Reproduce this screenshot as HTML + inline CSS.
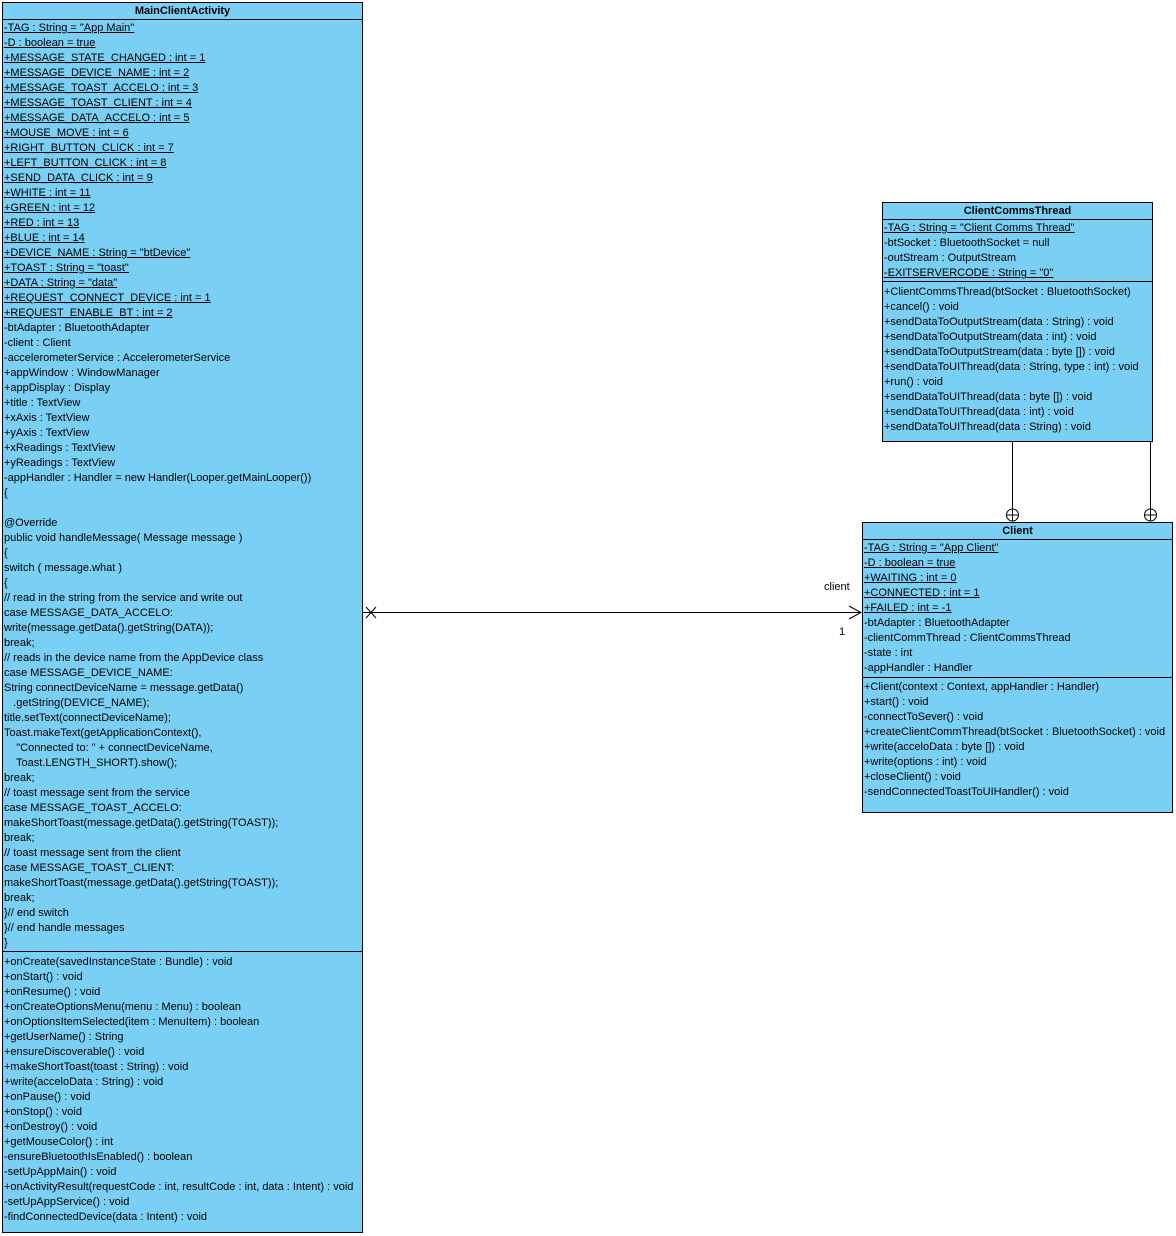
<!DOCTYPE html>
<html><head><meta charset="utf-8"><style>
body{margin:0;width:1176px;height:1236px;background:#fff;position:relative;font-family:"Liberation Sans",Arial,sans-serif;font-size:11px;color:#000;overflow:hidden}
.box{position:absolute;background:#7acff5;border:1px solid #000;box-sizing:border-box}
.hd{position:absolute;left:0;right:0;top:0;height:16px;border-bottom:1px solid #000;text-align:center;font-weight:bold;line-height:16px}
.sec{position:absolute;left:1px;right:0}
.sec div{height:15px;line-height:15px;white-space:pre}
.u{text-decoration:underline}
.dv{position:absolute;left:0;right:0;border-top:1px solid #000}
svg{position:absolute;left:0;top:0}
.lbl{position:absolute;font-size:11px}
</style></head><body>

<div class="box" style="left:2px;top:2px;width:361px;height:1231px">
<div class="hd">MainClientActivity</div>
<div class="sec" style="top:18px">
<div><span class="u">-TAG : String = "App Main"</span></div>
<div><span class="u">-D : boolean = true</span></div>
<div><span class="u">+MESSAGE_STATE_CHANGED : int = 1</span></div>
<div><span class="u">+MESSAGE_DEVICE_NAME : int = 2</span></div>
<div><span class="u">+MESSAGE_TOAST_ACCELO : int = 3</span></div>
<div><span class="u">+MESSAGE_TOAST_CLIENT : int = 4</span></div>
<div><span class="u">+MESSAGE_DATA_ACCELO : int = 5</span></div>
<div><span class="u">+MOUSE_MOVE : int = 6</span></div>
<div><span class="u">+RIGHT_BUTTON_CLICK : int = 7</span></div>
<div><span class="u">+LEFT_BUTTON_CLICK : int = 8</span></div>
<div><span class="u">+SEND_DATA_CLICK : int = 9</span></div>
<div><span class="u">+WHITE : int = 11</span></div>
<div><span class="u">+GREEN : int = 12</span></div>
<div><span class="u">+RED : int = 13</span></div>
<div><span class="u">+BLUE : int = 14</span></div>
<div><span class="u">+DEVICE_NAME : String = "btDevice"</span></div>
<div><span class="u">+TOAST : String = "toast"</span></div>
<div><span class="u">+DATA : String = "data"</span></div>
<div><span class="u">+REQUEST_CONNECT_DEVICE : int = 1</span></div>
<div><span class="u">+REQUEST_ENABLE_BT : int = 2</span></div>
<div>-btAdapter : BluetoothAdapter</div>
<div>-client : Client</div>
<div>-accelerometerService : AccelerometerService</div>
<div>+appWindow : WindowManager</div>
<div>+appDisplay : Display</div>
<div>+title : TextView</div>
<div>+xAxis : TextView</div>
<div>+yAxis : TextView</div>
<div>+xReadings : TextView</div>
<div>+yReadings : TextView</div>
<div>-appHandler : Handler = new Handler(Looper.getMainLooper())</div>
<div>{</div>
<div> </div>
<div>@Override</div>
<div>public void handleMessage( Message message )</div>
<div>{</div>
<div>switch ( message.what )</div>
<div>{</div>
<div>// read in the string from the service and write out</div>
<div>case MESSAGE_DATA_ACCELO:</div>
<div>write(message.getData().getString(DATA));</div>
<div>break;</div>
<div>// reads in the device name from the AppDevice class</div>
<div>case MESSAGE_DEVICE_NAME:</div>
<div>String connectDeviceName = message.getData()</div>
<div>   .getString(DEVICE_NAME);</div>
<div>title.setText(connectDeviceName);</div>
<div>Toast.makeText(getApplicationContext(),</div>
<div>    "Connected to: " + connectDeviceName,</div>
<div>    Toast.LENGTH_SHORT).show();</div>
<div>break;</div>
<div>// toast message sent from the service</div>
<div>case MESSAGE_TOAST_ACCELO:</div>
<div>makeShortToast(message.getData().getString(TOAST));</div>
<div>break;</div>
<div>// toast message sent from the client</div>
<div>case MESSAGE_TOAST_CLIENT:</div>
<div>makeShortToast(message.getData().getString(TOAST));</div>
<div>break;</div>
<div>}// end switch</div>
<div>}// end handle messages</div>
<div>}</div>
</div>
<div class="dv" style="top:948px"></div>
<div class="sec" style="top:952px">
<div>+onCreate(savedInstanceState : Bundle) : void</div>
<div>+onStart() : void</div>
<div>+onResume() : void</div>
<div>+onCreateOptionsMenu(menu : Menu) : boolean</div>
<div>+onOptionsItemSelected(item : MenuItem) : boolean</div>
<div>+getUserName() : String</div>
<div>+ensureDiscoverable() : void</div>
<div>+makeShortToast(toast : String) : void</div>
<div>+write(acceloData : String) : void</div>
<div>+onPause() : void</div>
<div>+onStop() : void</div>
<div>+onDestroy() : void</div>
<div>+getMouseColor() : int</div>
<div>-ensureBluetoothIsEnabled() : boolean</div>
<div>-setUpAppMain() : void</div>
<div>+onActivityResult(requestCode : int, resultCode : int, data : Intent) : void</div>
<div>-setUpAppService() : void</div>
<div>-findConnectedDevice(data : Intent) : void</div>
</div>
</div>

<div class="box" style="left:882px;top:202px;width:271px;height:240px">
<div class="hd">ClientCommsThread</div>
<div class="sec" style="top:18px">
<div><span class="u">-TAG : String = "Client Comms Thread"</span></div>
<div>-btSocket : BluetoothSocket = null</div>
<div>-outStream : OutputStream</div>
<div><span class="u">-EXITSERVERCODE : String = "0"</span></div>
</div>
<div class="dv" style="top:78px"></div>
<div class="sec" style="top:82px">
<div>+ClientCommsThread(btSocket : BluetoothSocket)</div>
<div>+cancel() : void</div>
<div>+sendDataToOutputStream(data : String) : void</div>
<div>+sendDataToOutputStream(data : int) : void</div>
<div>+sendDataToOutputStream(data : byte []) : void</div>
<div>+sendDataToUIThread(data : String, type : int) : void</div>
<div>+run() : void</div>
<div>+sendDataToUIThread(data : byte []) : void</div>
<div>+sendDataToUIThread(data : int) : void</div>
<div>+sendDataToUIThread(data : String) : void</div>
</div>
</div>

<div class="box" style="left:862px;top:522px;width:311px;height:291px">
<div class="hd">Client</div>
<div class="sec" style="top:18px">
<div><span class="u">-TAG : String = "App Client"</span></div>
<div><span class="u">-D : boolean = true</span></div>
<div><span class="u">+WAITING : int = 0</span></div>
<div><span class="u">+CONNECTED : int = 1</span></div>
<div><span class="u">+FAILED : int = -1</span></div>
<div>-btAdapter : BluetoothAdapter</div>
<div>-clientCommThread : ClientCommsThread</div>
<div>-state : int</div>
<div>-appHandler : Handler</div>
</div>
<div class="dv" style="top:154px"></div>
<div class="sec" style="top:157px">
<div>+Client(context : Context, appHandler : Handler)</div>
<div>+start() : void</div>
<div>-connectToSever() : void</div>
<div>+createClientCommThread(btSocket : BluetoothSocket) : void</div>
<div>+write(acceloData : byte []) : void</div>
<div>+write(options : int) : void</div>
<div>+closeClient() : void</div>
<div>-sendConnectedToastToUIHandler() : void</div>
</div>
</div>

<svg width="1176" height="1236">
<g stroke="#000" stroke-width="1" fill="none">
<line x1="363" y1="612.5" x2="861" y2="612.5"/>
<polyline points="849,606 861,612.5 849,619"/>
<line x1="366" y1="607" x2="376" y2="618"/>
<line x1="366" y1="618" x2="376" y2="607"/>
<line x1="1012.5" y1="442" x2="1012.5" y2="509"/>
<circle cx="1012.5" cy="515" r="6" fill="#fff"/>
<line x1="1006.5" y1="515" x2="1018.5" y2="515"/>
<line x1="1012.5" y1="509" x2="1012.5" y2="521"/>
<line x1="1150.5" y1="442" x2="1150.5" y2="509"/>
<circle cx="1150.5" cy="515" r="6" fill="#fff"/>
<line x1="1144.5" y1="515" x2="1156.5" y2="515"/>
<line x1="1150.5" y1="509" x2="1150.5" y2="521"/>
</g>
</svg>
<div class="lbl" style="left:824px;top:581px">client</div>
<div class="lbl" style="left:839px;top:626px">1</div>
</body></html>
